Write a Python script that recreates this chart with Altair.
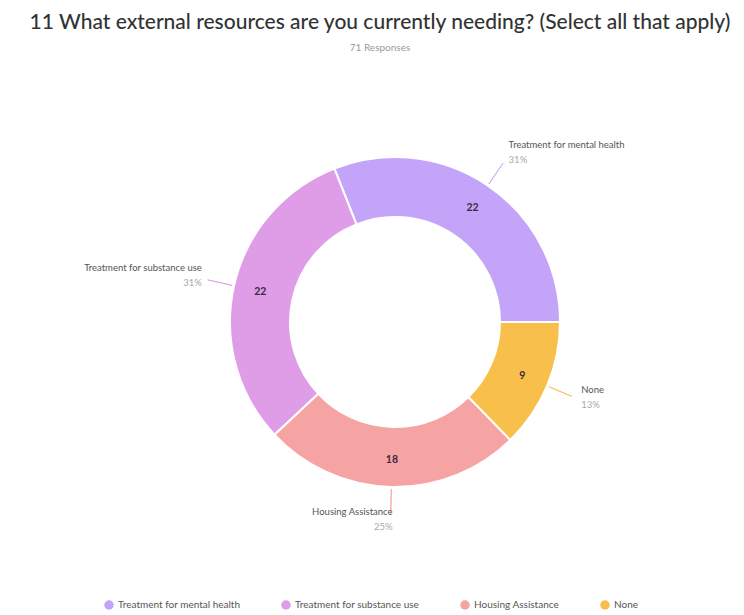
import math
import altair as alt
import pandas as pd

categories = ["Treatment for mental health", "Treatment for substance use", "Housing Assistance", "None"]
counts = [22, 22, 18, 9]
percents = ["31%", "31%", "25%", "13%"]
draw_order = [4, 3, 2, 1]
colors = ["#c3a4f8", "#df9de8", "#f6a3a3", "#f8bf4b"]

df = pd.DataFrame({"category": categories, "count": counts, "pct": percents, "draw_order": draw_order})
total = sum(counts)

CX, CY = 387, 259
FONT = "Lato"
RIGHT = "indexof(['Treatment for mental health', 'None'], datum.category) >= 0"

base = alt.Chart(df).transform_window(
    end="sum(count)", sort=[alt.SortField("draw_order")], frame=[None, 0]
).transform_calculate(
    start="datum.end - datum.count",
    mid="datum.end - datum.count / 2",
    right_name=f"{RIGHT} ? datum.category : ''",
    left_name=f"{RIGHT} ? '' : datum.category",
    right_pct=f"{RIGHT} ? datum.pct : ''",
    left_pct=f"{RIGHT} ? '' : datum.pct",
)

theta_scale = alt.Scale(domain=[0, total], nice=False, zero=True,
                        range=[math.pi / 2, math.pi / 2 + 2 * math.pi])
color_scale = alt.Scale(domain=categories, range=colors)
pos = dict(x=alt.value(CX), y=alt.value(CY))


def th(field):
    return alt.Theta(field, type="quantitative", stack=None, scale=theta_scale)


arcs = base.mark_arc(innerRadius=105, outerRadius=165, stroke="white", strokeWidth=2).encode(
    theta=th("start"),
    theta2="end:Q",
    color=alt.Color("category:N", scale=color_scale, sort=categories,
                    legend=alt.Legend(title=None, orient="none", direction="horizontal",
                                      legendX=96, legendY=537, symbolType="circle",
                                      symbolSize=90, labelFont=FONT, labelFontSize=10,
                                      labelColor="#555555", columnPadding=40,
                                      symbolStrokeWidth=0)),
    **pos,
)

leaders = base.mark_arc(radius=167, radius2=192, filled=False, strokeWidth=1, opacity=0.8).encode(
    theta=th("mid"),
    theta2="mid:Q",
    stroke=alt.Stroke("category:N", scale=color_scale, legend=None),
    **pos,
)

values = base.mark_text(radius=138, font=FONT, fontSize=10.5, fontWeight="bold", color="#3b2a45").encode(
    theta=th("mid"), text="count:Q", **pos)

name_r = base.mark_text(radius=202, align="left", dx=0, dy=-10, font=FONT, fontSize=9.5, color="#555555").encode(
    theta=th("mid"), text="right_name:N", **pos)
name_l = base.mark_text(radius=200, align="right", dx=2, dy=-10, font=FONT, fontSize=9.5, color="#555555").encode(
    theta=th("mid"), text="left_name:N", **pos)
pct_r = base.mark_text(radius=202, align="left", dx=0, dy=5, font=FONT, fontSize=9.5, color="#aaaaaa").encode(
    theta=th("mid"), text="right_pct:N", **pos)
pct_l = base.mark_text(radius=200, align="right", dx=2, dy=5, font=FONT, fontSize=9.5, color="#aaaaaa").encode(
    theta=th("mid"), text="left_pct:N", **pos)

chart = alt.layer(arcs, leaders, values, name_r, name_l, pct_r, pct_l).properties(
    width=728, height=520, padding={"top": 4, "left": 0, "right": 0, "bottom": 0},
    title=alt.TitleParams(
        "11 What external resources are you currently needing? (Select all that apply)",
        subtitle="71 Responses", anchor="middle", font=FONT, fontSize=21, fontWeight=500,
        color="#333333", subtitleFont=FONT, subtitleFontSize=10, subtitleColor="#9a9a9a",
        subtitlePadding=10, offset=10, dx=8,
    ),
).configure_view(stroke=None)

chart.save("out.html", embed_options={"renderer": "svg", "actions": False})
